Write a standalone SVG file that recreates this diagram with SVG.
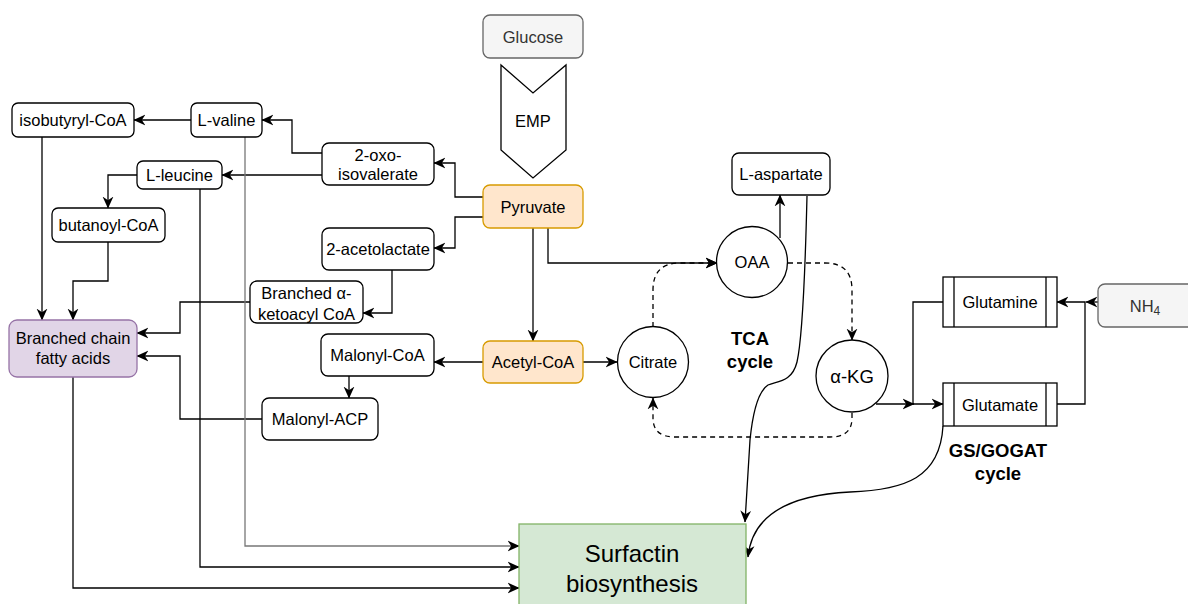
<svg xmlns="http://www.w3.org/2000/svg" width="1188" height="604" viewBox="0 0 1188 604">
<style>
text{font-family:"Liberation Sans",Arial,sans-serif;font-size:16.5px;fill:#000;text-anchor:middle;dominant-baseline:central}
.b{fill:#fff;stroke:#000;stroke-width:1.3}
.c{fill:none;stroke:#000;stroke-width:1.3;marker-end:url(#a)}
.n{fill:none;stroke:#000;stroke-width:1.3}
.d{stroke-dasharray:5 4}
.g{stroke:#777}
.bold{font-weight:bold;font-size:18.5px}
</style>
<defs>
<marker id="a" viewBox="0 0 10 10" refX="9.5" refY="5" markerWidth="12" markerHeight="12" orient="auto" markerUnits="userSpaceOnUse">
<path d="M0,0.5 L10,5 L0,9.5 L3,5 z" fill="#000"/>
</marker>
</defs>
<g id="connectors">
<path class="c" d="M191,120 L134,120"/>
<path class="c" d="M322,153 L292,153 L292,120 L262,120"/>
<path class="c" d="M322,175 L222,175"/>
<path class="c" d="M483,197 L455,197 L455,163 L434,163"/>
<path class="c" d="M483,217 L455,217 L455,248 L434,248"/>
<path class="c" d="M137,175 L108,175 L108,208"/>
<path class="c" d="M42,137 L42,320"/>
<path class="c" d="M108,242 L108,281 L73,281 L73,320"/>
<path class="c" d="M392,270 L392,313 L363,313"/>
<path class="c" d="M250,302 L180,302 L180,333 L137,333"/>
<path class="c" d="M262,419 L180,419 L180,356 L137,356"/>
<path class="c" d="M349,376 L349,398"/>
<path class="c" d="M483,362 L434,362"/>
<path class="c" d="M533,228 L533,341"/>
<path class="c" d="M548,228 L548,263 L717,263"/>
<path class="c" d="M583,362 L617,362"/>
<path class="c d" d="M653,327 L653,290 Q653,263 680,263 L717,263"/>
<path class="c d" d="M788,263 L825,263 Q852,263 852,290 L852,340"/>
<path class="c d" d="M852,413 L852,418 Q852,437 830,437 L675,437 Q653,437 653,418 L653,398"/>
<path class="c" d="M780,238 L780,195"/>
<path class="c" d="M807,196 C805,280 802,340 797,362 C792,382 778,381 768,385 C757,392 752,420 750,440 L745,522"/>
<path class="c" d="M876,404 L914,404"/>
<path class="c" d="M943,302 L913,302 L913,404 L943,404"/>
<path class="c" d="M1057,404 L1085,404 L1085,302 L1057,302"/>
<path class="c" d="M1098,302 L1086,302"/>
<path class="c" d="M943,426 C940,478 905,490 850,492 C790,495 752,515 748,557"/>
<path class="c g" d="M245,137 L245,546 L519,546"/>
<path class="c" d="M200,189 L200,567 L519,567"/>
<path class="c" d="M73,377 L73,588 L519,588"/>
</g>
<g id="glucose"><rect x="483" y="15" width="100" height="43" rx="7" fill="#f5f5f5" stroke="#666" stroke-width="1.3"/><text x="533" y="36.5" style="fill:#333">Glucose</text></g>
<g id="emp"><polygon points="501,65 533,93 566,65 566,150 533,178 501,150" fill="#fff" stroke="#000" stroke-width="1.3"/><text x="533" y="121">EMP</text></g>
<g id="pyruvate"><rect x="483" y="185" width="100" height="43" rx="7" fill="#ffe6cc" stroke="#d79b00" stroke-width="1.3"/><text x="533" y="206.5">Pyruvate</text></g>
<g id="isobutyryl"><rect class="b" x="12" y="103" width="122" height="34" rx="6"/><text x="73" y="120">isobutyryl-CoA</text></g>
<g id="lvaline"><rect class="b" x="191" y="103" width="71" height="34" rx="6"/><text x="226.5" y="120">L-valine</text></g>
<g id="lleucine"><rect class="b" x="137" y="161" width="85" height="28" rx="6"/><text x="179.5" y="175">L-leucine</text></g>
<g id="butanoyl"><rect class="b" x="52" y="208" width="113" height="34" rx="6"/><text x="108.5" y="225">butanoyl-CoA</text></g>
<g id="oxoisovalerate"><rect class="b" x="322" y="143" width="112" height="42" rx="7"/><text x="378" y="155">2-oxo-</text><text x="378" y="174">isovalerate</text></g>
<g id="acetolactate"><rect class="b" x="322" y="228" width="112" height="42" rx="7"/><text x="378" y="249">2-acetolactate</text></g>
<g id="ketoacyl"><rect class="b" x="250" y="281" width="113" height="42" rx="7"/><text x="306.5" y="293">Branched α-</text><text x="306.5" y="314">ketoacyl CoA</text></g>
<g id="malonylcoa"><rect class="b" x="321" y="334" width="113" height="42" rx="7"/><text x="377.5" y="355">Malonyl-CoA</text></g>
<g id="malonylacp"><rect class="b" x="262" y="398" width="116" height="42" rx="7"/><text x="320" y="419">Malonyl-ACP</text></g>
<g id="bcfa"><rect x="9" y="320" width="128" height="57" rx="8" fill="#e1d5e7" stroke="#9673a6" stroke-width="1.3"/><text x="73" y="338">Branched chain</text><text x="73" y="358">fatty acids</text></g>
<g id="acetylcoa"><rect x="483" y="341" width="100" height="42" rx="7" fill="#ffe6cc" stroke="#d79b00" stroke-width="1.3"/><text x="533" y="362">Acetyl-CoA</text></g>
<g id="citrate"><circle class="b" cx="653" cy="362" r="35.5"/><text x="653" y="362">Citrate</text></g>
<g id="oaa"><circle class="b" cx="752" cy="262" r="35.5"/><text x="752" y="262">OAA</text></g>
<g id="akg"><circle class="b" cx="852" cy="376" r="36"/><text x="852" y="376" style="font-size:18.5px">α-KG</text></g>
<g id="laspartate"><rect class="b" x="732" y="153" width="98" height="42" rx="7"/><text x="781" y="174">L-aspartate</text></g>
<g id="tca"><text class="bold" x="750" y="338">TCA</text><text class="bold" x="750" y="361">cycle</text></g>
<g id="glutamine"><rect class="b" x="943" y="277" width="114" height="50"/><line class="n" x1="954" y1="277" x2="954" y2="327"/><line class="n" x1="1046" y1="277" x2="1046" y2="327"/><text x="1000" y="302">Glutamine</text></g>
<g id="glutamate"><rect class="b" x="943" y="383" width="114" height="43"/><line class="n" x1="954" y1="383" x2="954" y2="426"/><line class="n" x1="1046" y1="383" x2="1046" y2="426"/><text x="1000" y="404.5">Glutamate</text></g>
<g id="nh4"><rect x="1098" y="284" width="110" height="43" rx="7" fill="#f5f5f5" stroke="#666" stroke-width="1.3"/><text x="1145" y="305.5" style="fill:#333">NH<tspan dy="5" style="font-size:12px">4</tspan></text></g>
<g id="gsgogat"><text class="bold" x="998" y="450">GS/GOGAT</text><text class="bold" x="998" y="473">cycle</text></g>
<g id="surfactin"><rect x="519" y="524" width="227" height="100" fill="#d5e8d4" stroke="#82b366" stroke-width="1.3"/><text x="632" y="553" style="font-size:24px">Surfactin</text><text x="632" y="583" style="font-size:24px">biosynthesis</text></g>
</svg>
